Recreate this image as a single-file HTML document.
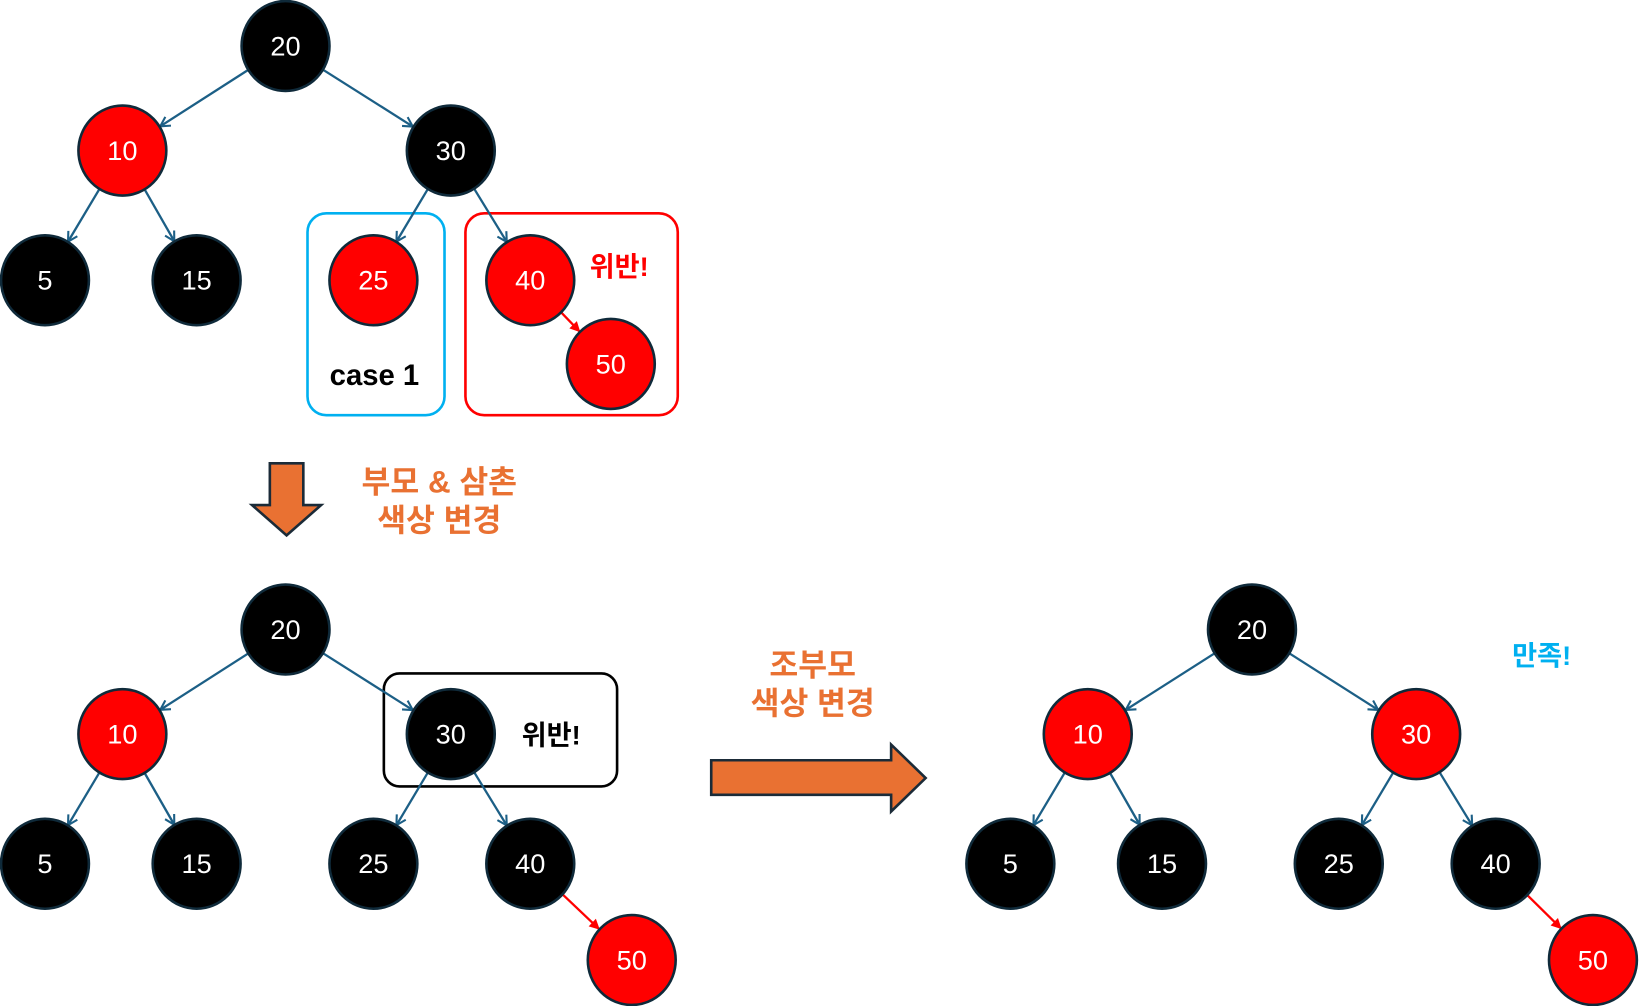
<!DOCTYPE html>
<html><head><meta charset="utf-8"><style>
html,body{margin:0;padding:0;background:#fff;}
svg{display:block;}
text{font-family:"Liberation Sans","Noto Sans CJK KR",sans-serif;}
</style></head><body>
<svg id="s" width="1640" height="1006" viewBox="0 0 1568 962" preserveAspectRatio="none" xmlns="http://www.w3.org/2000/svg">
<defs>
<marker id="ab" markerWidth="12" markerHeight="12" refX="10" refY="6" orient="auto" markerUnits="userSpaceOnUse"><path d="M1,1 L10,6 L1,11" fill="none" stroke="#1c5f86" stroke-width="2"/></marker>
<marker id="ar" markerWidth="12" markerHeight="12" refX="10" refY="6" orient="auto" markerUnits="userSpaceOnUse"><path d="M1,1 L11,6 L1,11 Z" fill="#ff0000"/></marker>
</defs>
<rect x="294" y="204" width="131" height="193" rx="18" fill="none" stroke="#00b0f0" stroke-width="2.5"/>
<rect x="445" y="204" width="203" height="193" rx="18" fill="none" stroke="#ff0000" stroke-width="2.5"/>
<text x="358" y="368" font-size="28" font-weight="bold" text-anchor="middle" fill="#000">case  1</text>
<text x="592" y="264" font-size="26" font-weight="bold" text-anchor="middle" fill="#ff0000">위반!</text>
<path d="M258,443 H290 V483 H307 L274,512 L241,483 H258 Z" fill="#e97132" stroke="#1b2b38" stroke-width="2.5"/>
<text x="420" y="471" font-size="30" font-weight="bold" text-anchor="middle" fill="#e97132">부모 &amp; 삼촌</text>
<text x="420" y="508" font-size="30" font-weight="bold" text-anchor="middle" fill="#e97132">색상 변경</text>
<rect x="367" y="644" width="223" height="108" rx="15" fill="none" stroke="#000" stroke-width="2.5"/>
<text x="527" y="712" font-size="26" font-weight="bold" text-anchor="middle" fill="#000">위반!</text>
<text x="777" y="646" font-size="30" font-weight="bold" text-anchor="middle" fill="#e97132">조부모</text>
<text x="777" y="683" font-size="30" font-weight="bold" text-anchor="middle" fill="#e97132">색상 변경</text>
<path d="M680,727 H852 V712 L885,744 L852,776 V760 H680 Z" fill="#e97132" stroke="#1b2b38" stroke-width="2.5"/>
<text x="1474" y="636" font-size="26" font-weight="bold" text-anchor="middle" fill="#00b0f0">만족!</text>
<g id="edges"></g><g id="nodes"></g>
</svg>
<script>
var R='#ff0000',B='#000000';
var trees=[
 {n:{20:[273,44,B],10:[117,144,R],30:[431,144,B],5:[43,268,B],15:[188,268,B],25:[357,268,R],40:[507,268,R],50:[584,348,R]}},
 {n:{20:[273,602,B],10:[117,702,R],30:[431,702,B],5:[43,826,B],15:[188,826,B],25:[357,826,B],40:[507,826,B],50:[604,918,R]}},
 {n:{20:[1197,602,B],10:[1040,702,R],30:[1354,702,R],5:[966,826,B],15:[1111,826,B],25:[1280,826,B],40:[1430,826,B],50:[1523,918,R]}}
];
var E=[[20,10],[20,30],[10,5],[10,15],[30,25],[30,40],[40,50]];
var NS='http://www.w3.org/2000/svg',eg=document.getElementById('edges'),ng=document.getElementById('nodes');
function el(t,a,p){var e=document.createElementNS(NS,t);for(var k in a)e.setAttribute(k,a[k]);p.appendChild(e);return e;}
var r=43;
trees.forEach(function(t){
 E.forEach(function(e){var a=t.n[e[0]],b=t.n[e[1]];var dx=b[0]-a[0],dy=b[1]-a[1],d=Math.sqrt(dx*dx+dy*dy),ux=dx/d,uy=dy/d;
  var red=e[0]==40;
  el('line',{x1:a[0]+ux*r,y1:a[1]+uy*r,x2:b[0]-ux*r,y2:b[1]-uy*r,stroke:red?'#ff0000':'#1c5f86','stroke-width':2.2,'marker-end':red?'url(#ar)':'url(#ab)'},eg);});
 for(var k in t.n){var c=t.n[k];el('ellipse',{cx:c[0],cy:c[1],rx:42,ry:43,fill:c[2],stroke:'#0f2a3a','stroke-width':2.5},ng);
  var tx=el('text',{x:c[0],y:c[1]+9,'font-size':26,'text-anchor':'middle',fill:'#fff'},ng);tx.textContent=k;}
});
</script>
</body></html>
